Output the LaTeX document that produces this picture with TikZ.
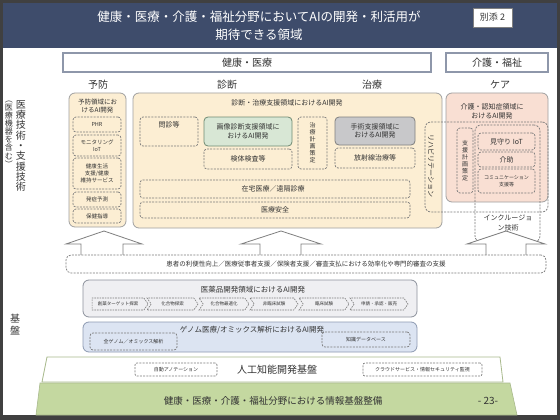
\documentclass[tikz,border=0pt]{standalone}
\usepackage{fontspec}
\setmainfont{Noto Sans CJK JP}
\usetikzlibrary{shapes.symbols}
\definecolor{framec}{HTML}{404040}
\definecolor{titlebg}{HTML}{3E4C6B}
\definecolor{txt}{HTML}{333333}
\definecolor{hdrline}{HTML}{8E97AA}
\definecolor{yel}{HTML}{FCEED3}
\definecolor{yelline}{HTML}{A0A0A0}
\definecolor{grn}{HTML}{D8E7D5}
\definecolor{grnline}{HTML}{6F8A72}
\definecolor{gry}{HTML}{C8C8CA}
\definecolor{gryline}{HTML}{7F7F7F}
\definecolor{sal}{HTML}{F9DFD3}
\definecolor{med}{HTML}{EFEFF2}
\definecolor{medline}{HTML}{8C919C}
\definecolor{gen}{HTML}{DCE4F2}
\definecolor{genline}{HTML}{8D9AB2}
\definecolor{dashc}{HTML}{7A7A7A}
\definecolor{basegreen}{HTML}{C4D8A0}
\definecolor{baseline}{HTML}{A8B98C}
\newcommand\fsz[2]{\fontsize{#1pt}{#2pt}\selectfont}
\begin{document}
\begin{tikzpicture}[x=1pt,y=-1pt,
  every node/.style={inner sep=0pt, outer sep=0pt, text=txt},
  dbox/.style={draw=dashc, dash pattern=on 2pt off 1.2pt, line width=0.7pt, rounded corners=3pt},
  sbox/.style={rounded corners=6pt, line width=0.8pt},
  hdr/.style={draw=hdrline, line width=1.2pt, fill=white, font=\fsz{10}{12}},
  cat/.style={font=\fsz{10}{12}},
  small/.style={font=\fsz{6.5}{8}, align=center},
  chev/.style={signal, draw=dashc, dash pattern=on 1.6pt off 1pt, line width=0.6pt, signal to=east, signal pointer angle=110, minimum height=12pt, font=\fsz{4.5}{5.5}},
  uparrow/.style={draw=gryline, fill=white, line width=0.8pt}
]
\useasboundingbox (0,0) rectangle (560,420);
\fill[framec] (0,0) rectangle (560,420);
\fill[white] (3,3) rectangle (557,415);
\fill[titlebg] (3,3) rectangle (557,48);
\node[text=white, align=center, font=\fsz{12.5}{18}] (title) at (259,26) {健康・医療・介護・福祉分野においてAIの開発・利活用が\\期待できる領域};
\node[draw=gray, fill=white, minimum width=39pt, minimum height=19pt, font=\fsz{9}{10}] (betten) at (492.5,17.5) {別添 2};

% headers
\node[hdr, minimum width=368pt, minimum height=19pt] (hdrmed) at (247,62.5) {健康・医療};
\node[hdr, minimum width=102pt, minimum height=19pt] (hdrcare) at (497,62.5) {介護・福祉};
\node[cat] (yobo) at (98,85) {予防};
\node[cat] (shindan) at (227,85) {診断};
\node[cat] (chiryo) at (372,85) {治療};
\node[cat] (care) at (500,85) {ケア};

% left labels
\node[font=\fsz{10}{10.3}, align=center] (lefta) at (21,146) {医\\療\\技\\術\\・\\支\\援\\技\\術};
\node[font=\fsz{8}{8.1}, align=center] (leftb) at (9,134) {︵\\医\\療\\機\\器\\を\\含\\む\\︶};
\node[font=\fsz{10}{12}, align=center] (kiban) at (15,325) {基\\盤};

% prevention
\node[sbox, draw=yelline, fill=yel, minimum width=57pt, minimum height=134pt] (prevbox) at (97.5,160) {};
\node[small] (prevt) at (97.5,106) {予防領域にお\\けるAI開発};
\node[dbox, minimum width=48pt, minimum height=15pt, font=\fsz{5.5}{6.5}] (phr) at (97,124.5) {PHR};
\node[dbox, minimum width=48pt, minimum height=21pt, font=\fsz{5.5}{6.5}, align=center] (moni) at (97,145.5) {モニタリング\\IoT};
\node[dbox, minimum width=48pt, minimum height=31pt, font=\fsz{5.5}{6.8}, align=center] (kenko) at (97,173.5) {健康生活\\支援/健康\\維持サービス};
\node[dbox, minimum width=48pt, minimum height=15pt, font=\fsz{5.5}{6.5}] (hassho) at (97,199.5) {発症予測};
\node[dbox, minimum width=48pt, minimum height=14pt, font=\fsz{5.5}{6.5}] (hoken) at (97,216) {保健指導};

% diagnosis / treatment
\node[sbox, draw=yelline, fill=yel, minimum width=309pt, minimum height=135pt] (dtbox) at (287.5,160.5) {};
\node[font=\fsz{7}{8}] (dtt) at (287,103) {診断・治療支援領域におけるAI開発};
\node[dbox, minimum width=58pt, minimum height=29pt] (monshin) at (169,131.5) {};
\node[font=\fsz{7}{8}] (monshint) at (169,125) {問診等};
\node[sbox, rounded corners=4pt, draw=grnline, fill=grn, minimum width=88pt, minimum height=29pt, font=\fsz{7}{8.5}, align=center] (gazo) at (248,131.5) {画像診断支援領域に\\おけるAI開発};
\node[dbox, minimum width=88pt, minimum height=20pt, font=\fsz{7}{8}] (kentai) at (248,159) {検体検査等};
\node[dbox, minimum width=29pt, minimum height=52pt, font=\fsz{6}{7}, align=center] (keikaku) at (312.5,143) {治\\療\\計\\画\\策\\定};
\node[sbox, rounded corners=4pt, draw=gryline, fill=gry, minimum width=80pt, minimum height=28pt, font=\fsz{7}{8.5}, align=center] (shujutsu) at (375,131) {手術支援領域に\\おけるAI開発};
\node[dbox, minimum width=80pt, minimum height=20pt, font=\fsz{7}{8}] (hoshasen) at (375,158) {放射線治療等};
\node[dbox, minimum width=270pt, minimum height=18pt] (zaitaku) at (275,189) {};
\node[font=\fsz{7}{8}] (zaitakut) at (273,189) {在宅医療／遠隔診療};
\node[dbox, minimum width=270pt, minimum height=16pt, font=\fsz{7}{8}] (anzen) at (275,210) {医療安全};

% care
\node[sbox, draw=yelline, fill=sal, minimum width=102pt, minimum height=109pt] (carebox) at (497,147.5) {};
\node[font=\fsz{7}{9}, align=center] (caret) at (492,111) {介護・認知症領域に\\おけるAI開発};
\node[dbox, minimum width=16pt, minimum height=65pt, font=\fsz{6}{7}, align=center] (shien) at (465,160.5) {支\\援\\計\\画\\策\\定};
\node[dbox, minimum width=57pt, minimum height=17pt, font=\fsz{7}{8}] (mimamori) at (506.5,141.5) {見守り IoT};
\node[dbox, minimum width=57pt, minimum height=15pt, font=\fsz{7}{8}] (kaijo) at (506.5,159.5) {介助};
\node[dbox, minimum width=57pt, minimum height=24pt, font=\fsz{5}{6.5}, align=center] (comm) at (506.5,181) {コミュニケーション\\支援等};
\node[dbox, rounded corners=6pt, minimum width=123pt, minimum height=90pt] (rehab) at (486.5,167) {};
\node[font=\fsz{7}{8}, rotate=-90] (rehabt) at (431,166) {リハビリテーション};
\node[dbox, rounded corners=6pt, minimum width=65pt, minimum height=117pt] (incl) at (507.5,183.5) {};
\node[font=\fsz{7}{10}, align=center] (inclt) at (508,223) {インクルージョ\\ン技術};

% up arrows
\draw[uparrow] (81,258) -- (81,244) -- (66,244) -- (104,231) -- (142,244) -- (123,244) -- (123,258);
\draw[uparrow] (260,258) -- (260,244) -- (241,244) -- (281,231) -- (321,244) -- (301,244) -- (301,258);
\draw[uparrow] (486,258) -- (486,244) -- (467,244) -- (506,231) -- (545,244) -- (526,244) -- (526,258);

% wide support box
\node[dbox, fill=white, rounded corners=5pt, minimum width=480pt, minimum height=18pt, font=\fsz{6.5}{8}] (support) at (306,264) {患者の利便性向上／医療従事者支援／保険者支援／審査支払における効率化や専門的審査の支援};

% medicine development
\node[sbox, draw=medline, fill=med, minimum width=334pt, minimum height=37pt] (medbox) at (250,298.5) {};
\node[font=\fsz{7.5}{9}] (medt) at (253,290) {医薬品開発領域におけるAI開発};
\node[chev, minimum width=56pt] (c1) at (118,304) {創薬ターゲット探索};
\node[chev, signal from=west, minimum width=51pt] (c2) at (172.5,304) {化合物探索};
\node[chev, signal from=west, minimum width=50pt] (c3) at (224,304) {化合物最適化};
\node[chev, signal from=west, minimum width=48pt] (c4) at (274,304) {非臨床試験};
\node[chev, signal from=west, minimum width=50pt] (c5) at (324,304) {臨床試験};
\node[chev, signal from=west, minimum width=58pt] (c6) at (379,304) {申請・承認・販売};

% genome
\node[sbox, draw=genline, fill=gen, minimum width=334pt, minimum height=30pt] (genbox) at (250,337) {};
\node[font=\fsz{7.5}{9}] (gent) at (252,330) {ゲノム医療/オミックス解析におけるAI開発};
\node[dbox, minimum width=87pt, minimum height=17pt, font=\fsz{5}{6}] (zengenome) at (133.5,341.5) {全ゲノム／オミックス解析};
\node[dbox, minimum width=88pt, minimum height=15pt, font=\fsz{5}{6}] (chishiki) at (366,339.5) {知識データベース};

% AI platform
\draw[draw=baseline, fill=white, line width=0.8pt] (47,357) -- (500,357) -- (503,382) -- (42,382) -- cycle;
\node[font=\fsz{10}{12}] (aikiban) at (277,370) {人工知能開発基盤};
\node[dbox, rounded corners=2pt, minimum width=82pt, minimum height=13pt, font=\fsz{5}{6}] (anno) at (176,369.5) {自動アノテーション};
\node[dbox, rounded corners=2pt, minimum width=119pt, minimum height=13pt, font=\fsz{5}{6}] (cloud) at (422.5,369.5) {クラウドサービス・情報セキュリティ監視};

% info platform
\draw[draw=baseline, fill=basegreen, line width=0.6pt] (40,383) -- (510,383) -- (517,415) -- (36,415) -- cycle;
\node[font=\fsz{9.5}{11}] (joho) at (273,401) {健康・医療・介護・福祉分野における情報基盤整備};
\node[font=\fsz{10}{12}] (page) at (488,401) {- 23-};
\end{tikzpicture}
\end{document}
